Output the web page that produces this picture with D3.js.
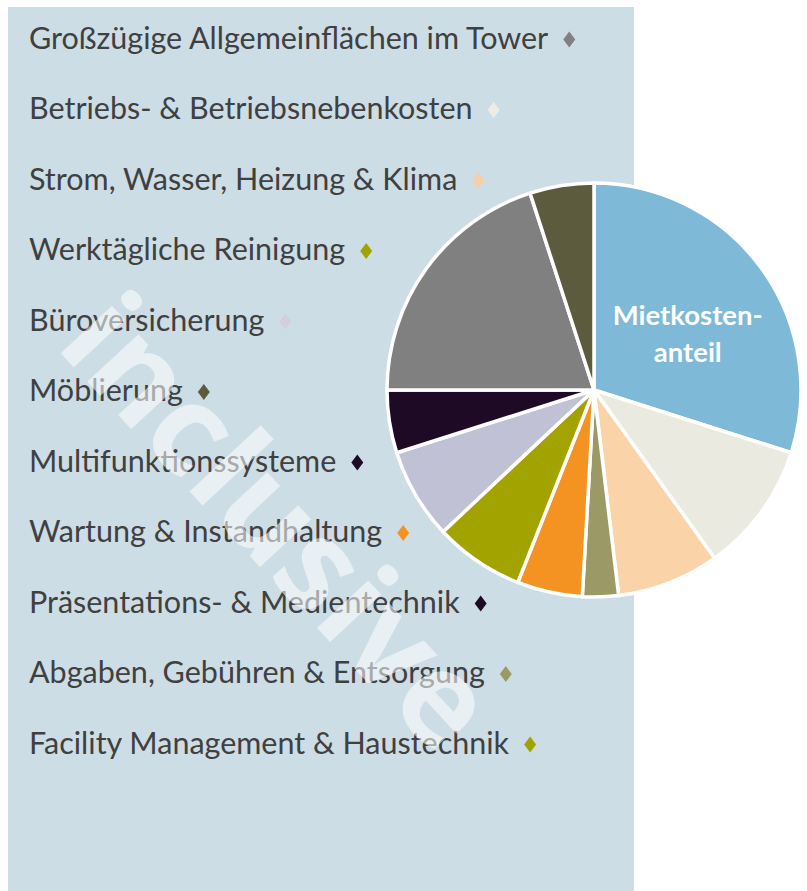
<!DOCTYPE html>
<html>
<head>
<meta charset="utf-8">
<script src="https://cdn.jsdelivr.net/npm/d3@7"></script>
<style>
  body { margin: 0; background: #fff; }
</style>
</head>
<body>
<div id="chart"></div>
<script>
// pie slices, clockwise from 12 o'clock
const sliceNames = [
    "Mietkostenanteil", "Betriebs- & Betriebsnebenkosten", "Strom, Wasser, Heizung & Klima",
    "Abgaben, Gebühren & Entsorgung", "Wartung & Instandhaltung", "Reinigung & Facility Management",
    "Büroversicherung", "Multifunktions- & Medientechnik", "Großzügige Allgemeinflächen im Tower", "Möblierung"
];
const sliceValues = [29.9, 10.2, 8.0, 2.8, 5.1, 7.0, 7.1, 4.9, 20.0, 5.0];
const sliceColors = [
    "#7eb9d7", "#ebeae0", "#fad4a8", "#9b9966", "#f59322", "#a3a300",
    "#c1c1d6", "#1f0a26", "#808080", "#5c5b3d"
];

// legend list on the left
const legendLabels = [
    "Großzügige Allgemeinflächen im Tower",
    "Betriebs- & Betriebsnebenkosten",
    "Strom, Wasser, Heizung & Klima",
    "Werktägliche Reinigung",
    "Büroversicherung",
    "Möblierung",
    "Multifunktionssysteme",
    "Wartung & Instandhaltung",
    "Präsentations- & Medientechnik",
    "Abgaben, Gebühren & Entsorgung",
    "Facility Management & Haustechnik"
];
const legendColors = [
    "#808080", "#eeede3", "#f6cfa6", "#a3a300", "#d3cee0", "#5c5b3d",
    "#1f0a26", "#f59322", "#1f0a26", "#9b9966", "#a3a300"
];

const watermark = "inclusive";

const width = 807;
const height = 891;

const svg = d3.select("#chart")
    .append("svg")
    .attr("width", width)
    .attr("height", height);

// background panel
svg.append("rect")
    .attr("x", 8)
    .attr("y", 7)
    .attr("width", 626)
    .attr("height", height - 7)
    .style("fill", "#cddde6");

// legend rows
const y = d3.scalePoint()
    .domain(legendLabels)
    .range([48.5, 753.5]);

const legend = svg.append("g").attr("class", "legend");

const labels = legend.selectAll("text")
    .data(legendLabels)
    .enter().append("text")
    .attr("x", 29)
    .attr("y", d => y(d))
    .style("font-family", "Lato, 'Open Sans', sans-serif")
    .style("font-size", "26px")
    .style("fill", "#404040")
    .text(d => d);

// fit font so first + last labels are as wide as in the original (524 + 476 px)
const nodes = labels.nodes();
const wFit = nodes[0].getComputedTextLength() + nodes[nodes.length - 1].getComputedTextLength();
const fs = 26 * 1000 / wFit;
labels.style("font-size", fs + "px");

labels.each(function(d, i) {
    const end = 29 + this.getComputedTextLength();
    legend.append("path")
        .attr("d", "M0,-8L6,0L0,8L-6,0Z")
        .attr("transform", `translate(${end + 21}, ${y(d) - 9})`)
        .style("fill", legendColors[i]);
});

// watermark
svg.append("text")
    .attr("transform", "translate(246, 552) rotate(47)")
    .attr("text-anchor", "middle")
    .style("font-family", "'Open Sans', sans-serif")
    .style("font-weight", 700)
    .style("font-size", "128px")
    .style("fill", "#ffffff")
    .style("fill-opacity", 0.55)
    .text(watermark);

// pie
const cx = 594, cy = 390, r = 207;

const pie = d3.pie()
    .sort(null)
    .value(d => d);

const arc = d3.arc()
    .innerRadius(0)
    .outerRadius(r);

const arcs = pie(sliceValues);

const pieG = svg.append("g")
    .attr("transform", `translate(${cx}, ${cy})`);

pieG.selectAll("path")
    .data(arcs)
    .enter().append("path")
    .attr("d", arc)
    .style("fill", (d, i) => sliceColors[i])
    .style("stroke", "#ffffff")
    .style("stroke-width", 3.5)
    .style("stroke-linejoin", "round");

const labelArc = d3.arc().innerRadius(105).outerRadius(105);
const [lx, ly] = labelArc.centroid(arcs[0]);

const pieLabel = pieG.append("text")
    .attr("text-anchor", "middle")
    .style("font-family", "Lato, 'Open Sans', sans-serif")
    .style("font-weight", "bold")
    .style("font-size", "27.5px")
    .style("fill", "#ffffff");

pieLabel.append("tspan")
    .attr("x", lx + 9)
    .attr("y", ly - 3)
    .text("Mietkosten-");

pieLabel.append("tspan")
    .attr("x", lx + 9)
    .attr("y", ly + 34)
    .text("anteil");
</script>
</body>
</html>
